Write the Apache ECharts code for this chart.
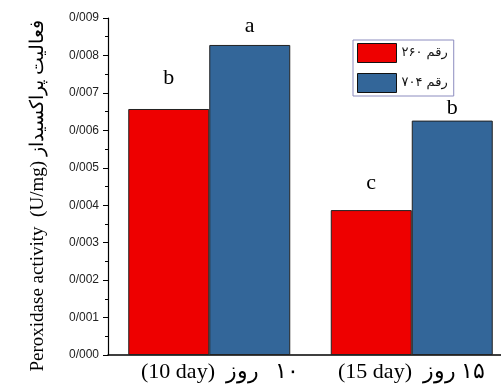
<!DOCTYPE html>
<html>
<head>
<meta charset="utf-8">
<script src="https://cdn.jsdelivr.net/npm/echarts@6/dist/echarts.min.js"></script>
<style>html,body{margin:0;padding:0;background:#fff}#c{width:501px;height:389px}</style>
</head>
<body>
<div id="c"></div>
<script>
// ---- data ----
const categories = ['    (10 day)  \u200F۱۰   روز', '(15 day)  \u200F۱۵ روز'];
const seriesNames = ['رقم ۲۶۰', 'رقم ۷۰۴'];
const values260 = [0.00657, 0.00387];
const values704 = [0.00828, 0.00626];
const letters260 = ['b', 'c'];
const letters704 = ['a', 'b'];
const yTitle = 'Peroxidase activity  (U/mg) فعالیت پراکسیداز';

// ---- layout/style ----
const labelDist260 = [20, 16];
const labelDist704 = [8, 1];
const serif = 'Liberation Serif, Times New Roman, DejaVu Serif, serif';

function mk(values, letters, dists) {
  return values.map((v, i) => ({
    value: v,
    label: { formatter: letters[i], distance: dists[i] }
  }));
}

const chart = echarts.init(document.getElementById('c'), null, { renderer: 'canvas' });
chart.setOption({
  animation: false,
  backgroundColor: '#fff',
  grid: { left: 108, right: -12, top: 18, bottom: 34, containLabel: false, outerBoundsMode: 'none' },
  legend: {
    orient: 'vertical',
    left: 353, top: 40,
    icon: 'rect',
    itemWidth: 39, itemHeight: 19, itemGap: 10,
    padding: [3, 6, 3, 4],
    borderColor: '#8c8cbf', borderWidth: 1,
    textStyle: { fontSize: 13, fontFamily: 'DejaVu Sans, Noto Sans, sans-serif', color: '#111' },
    itemStyle: { borderColor: '#111', borderWidth: 1 },
    data: seriesNames
  },
  xAxis: {
    type: 'category',
    data: categories,
    axisTick: { show: false },
    axisLine: { lineStyle: { color: '#000', width: 1.5 } },
    axisLabel: { interval: 0, hideOverlap: false, fontFamily: serif, fontSize: 22, color: '#000', margin: 6 }
  },
  yAxis: {
    type: 'value',
    min: 0, max: 0.009, interval: 0.001,
    splitLine: { show: false },
    axisLine: { show: true, lineStyle: { color: '#000', width: 1.2 } },
    axisTick: { show: true, length: 5, lineStyle: { color: '#000' } },
    minorTick: { show: true, splitNumber: 2, length: 3, lineStyle: { color: '#000' } },
    axisLabel: {
      fontFamily: 'Liberation Sans, Arial, sans-serif', fontSize: 12, color: '#222', margin: 9,
      formatter: v => v.toFixed(3).replace('.', '/')
    }
  },
  series: [
    {
      name: seriesNames[0], type: 'bar', barWidth: 81, barGap: '0%',
      itemStyle: { color: '#ee0000', borderColor: '#222', borderWidth: 1 },
      label: { show: true, position: 'top', fontFamily: serif, fontSize: 22, color: '#000' },
      data: mk(values260, letters260, labelDist260)
    },
    {
      name: seriesNames[1], type: 'bar', barWidth: 81, barGap: '0%',
      itemStyle: { color: '#336699', borderColor: '#222', borderWidth: 1 },
      label: { show: true, position: 'top', fontFamily: serif, fontSize: 22, color: '#000' },
      data: mk(values704, letters704, labelDist704)
    }
  ],
  graphic: [{
    type: 'text',
    x: 38, y: 196,
    rotation: Math.PI / 2,
    style: {
      text: yTitle,
      font: '19px ' + serif,
      fill: '#000',
      align: 'center', verticalAlign: 'middle',
      textAlign: 'center', textVerticalAlign: 'middle'
    }
  }]
});
</script>
</body>
</html>
